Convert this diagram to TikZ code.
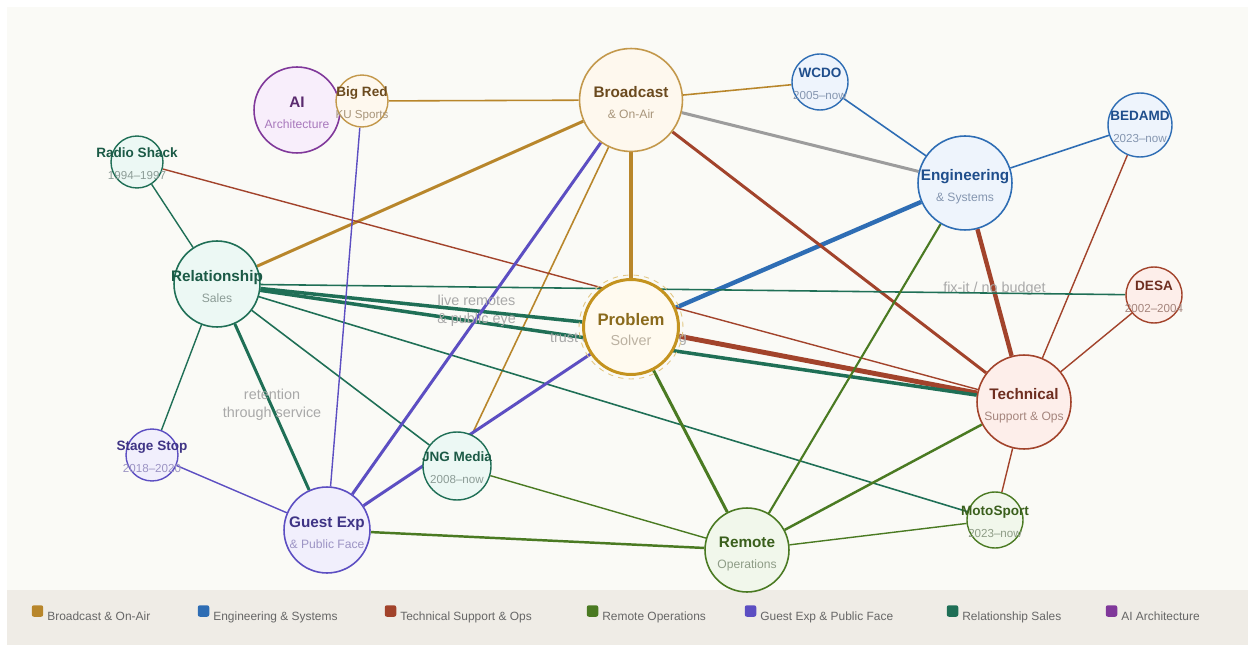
\documentclass[tikz,border=0pt]{standalone}
\usepackage{fontspec}
\setmainfont{Liberation Sans}

\pgfdeclarelayer{panel}
\pgfdeclarelayer{links}
\pgfsetlayers{panel,links,main}

\definecolor{panelbg}{HTML}{FAFAF6}
\definecolor{keybg}{HTML}{EFECE6}
\definecolor{keytext}{HTML}{666666}
\definecolor{lblgray}{HTML}{A9A9A9}
\definecolor{greyL}{HTML}{9C9C9C}
\definecolor{bcL}{HTML}{B8862B}\definecolor{bcF}{HTML}{FEF8EE}
\definecolor{bcT}{HTML}{6B4A1E}\definecolor{bcS}{HTML}{A8957A}
\definecolor{psL}{HTML}{C4931F}\definecolor{psF}{HTML}{FFFAEF}
\definecolor{psT}{HTML}{8A6A1C}\definecolor{psS}{HTML}{BCB2A2}
\definecolor{psHalo}{HTML}{E2C784}
\definecolor{enL}{HTML}{2E6DB4}\definecolor{enF}{HTML}{EEF4FC}
\definecolor{enT}{HTML}{1F4E8C}\definecolor{enS}{HTML}{8596B0}
\definecolor{teL}{HTML}{A2432B}\definecolor{teF}{HTML}{FDEEEA}
\definecolor{teT}{HTML}{6E2E20}\definecolor{teS}{HTML}{A5857D}
\definecolor{reL}{HTML}{4A7A22}\definecolor{reF}{HTML}{F1F7EB}
\definecolor{reT}{HTML}{3A5F1C}\definecolor{reS}{HTML}{8E9C86}
\definecolor{guL}{HTML}{5C4EC2}\definecolor{guF}{HTML}{F1EFFC}
\definecolor{guT}{HTML}{3F3485}\definecolor{guS}{HTML}{9C94C4}
\definecolor{rlL}{HTML}{1F6F56}\definecolor{rlF}{HTML}{ECF8F4}
\definecolor{rlT}{HTML}{1B5A46}\definecolor{rlS}{HTML}{8C9C96}
\definecolor{aiL}{HTML}{80389A}\definecolor{aiF}{HTML}{F8EEFB}
\definecolor{aiT}{HTML}{5A2A6E}\definecolor{aiS}{HTML}{A878BC}

% two-line text that leaves the circle at its own size
\newcommand\hubtxt[3]{%
  \makebox[0pt]{\raisebox{1.4pt}[0pt][0pt]{\fontsize{8.7}{10}\selectfont\bfseries\color{#1T}#2}}%
  \makebox[0pt]{\raisebox{-10.3pt}[0pt][0pt]{\fontsize{6.9}{8}\selectfont\color{#1S}#3}}}
\newcommand\sattxt[3]{%
  \makebox[0pt]{\raisebox{2.3pt}[0pt][0pt]{\fontsize{7.7}{9}\selectfont\bfseries\color{#1T}#2}}%
  \makebox[0pt]{\raisebox{-9.8pt}[0pt][0pt]{\fontsize{6.6}{8}\selectfont\color{#1S}#3}}}
\newcommand\pstxt[2]{%
  \makebox[0pt]{\raisebox{1.1pt}[0pt][0pt]{\fontsize{9.5}{11}\selectfont\bfseries\color{psT}#1}}%
  \makebox[0pt]{\raisebox{-10.5pt}[0pt][0pt]{\fontsize{8.2}{10}\selectfont\color{psS}#2}}}

\tikzset{
  hub/.style={circle, draw, line width=0.9pt, inner sep=0pt, minimum size=#1*0.04cm},
  sat/.style={circle, draw, line width=0.8pt, inner sep=0pt, minimum size=#1*0.04cm},
  bcnode/.style={draw=bcL!85!white, fill=bcF},
  psnode/.style={draw=psL, fill=psF, line width=1.7pt},
  ennode/.style={draw=enL, fill=enF},
  tenode/.style={draw=teL, fill=teF},
  renode/.style={draw=reL, fill=reF},
  gunode/.style={draw=guL, fill=guF},
  rlnode/.style={draw=rlL, fill=rlF},
  ainode/.style={draw=aiL, fill=aiF},
  lw/.style={line width=#1pt},
  elbl/.style={font=\fontsize{8.2}{10.2}\selectfont, text=lblgray, align=center, inner sep=0pt},
  keybox/.style={rectangle, rounded corners=1.2pt, inner sep=0pt, minimum size=0.23cm},
  keytxt/.style={anchor=base west, inner sep=0pt, font=\fontsize{6.8}{8}\selectfont, text=keytext},
}

\begin{document}
\begin{tikzpicture}[x=0.02cm, y=-0.02cm]
\begin{pgfonlayer}{panel}
\fill[white] (0,0) rectangle (1248,645);
\fill[panelbg] (7,7) rectangle (1248,590);
\fill[keybg] (7,590) rectangle (1248,645);
\end{pgfonlayer}

% main areas
\node (bc) at (631,100) [hub=51.5, bcnode] {\hubtxt{bc}{Broadcast}{\& On-Air}};
\node (en) at (965,183) [hub=47, ennode] {\hubtxt{en}{Engineering}{\& Systems}};
\node (te) at (1024,402) [hub=47, tenode] {\hubtxt{te}{Technical}{Support \& Ops}};
\node (rm) at (747,550) [hub=42, renode] {\hubtxt{re}{Remote}{Operations}};
\node (gu) at (327,530) [hub=43, gunode] {\hubtxt{gu}{Guest Exp}{\& Public Face}};
\node (rl) at (217,284) [hub=43, rlnode] {\hubtxt{rl}{Relationship}{Sales}};
\node (ai) at (297,110) [hub=43, ainode] {\hubtxt{ai}{AI}{Architecture}};

% centre
\node (psring) at (631,327) [hub=52, draw=psHalo, dashed, line width=0.5pt] {};
\node (ps) at (631,327) [hub=47.5, psnode] {\pstxt{Problem}{Solver}};

% employers
\node (br) at (362,101) [sat=26, bcnode] {\sattxt{bc}{Big Red}{KU Sports}};
\node (wc) at (820,82) [sat=28, ennode] {\sattxt{en}{WCDO}{2005–now}};
\node (bd) at (1140,125) [sat=32, ennode] {\sattxt{en}{BEDAMD}{2023–now}};
\node (rs) at (137,162) [sat=26, rlnode] {\sattxt{rl}{Radio Shack}{1994–1997}};
\node (ds) at (1154,295) [sat=28, tenode] {\sattxt{te}{DESA}{2002–2004}};
\node (ss) at (152,455) [sat=26, gunode] {\sattxt{gu}{Stage Stop}{2018–2020}};
\node (jng) at (457,466) [sat=34, rlnode] {\sattxt{rl}{JNG Media}{2008–now}};
\node (ms) at (995,520) [sat=28, renode] {\sattxt{re}{MotoSport}{2023–now}};

\begin{pgfonlayer}{links}
\path[bcL]
    (br) edge[lw=0.9] (bc)
    (bc) edge[lw=0.9] (wc)
    (bc) edge[lw=2.3] (ps)
    (bc) edge[lw=1.7] (rl)
    (bc) edge[lw=0.9] (jng);
\path[greyL]
    (bc) edge[lw=1.7] (en);
\path[enL]
    (wc) edge[lw=0.9] (en)
    (bd) edge[lw=0.9] (en)
    (en) edge[lw=2.5] (ps);
\path[teL]
    (bc) edge[lw=1.7] (te)
    (en) edge[lw=2.5] node[elbl, yshift=2pt] {fix-it / no budget} (te)
    (bd) edge[lw=0.8] (te)
    (ds) edge[lw=0.8] (te)
    (rs) edge[lw=0.8] (te)
    (ps) edge[lw=2.8] (te)
    (ms) edge[lw=0.8] (te);
\path[rlL]
    (rl) edge[lw=0.9] (ds)
    (rs) edge[lw=0.8] (rl)
    (rl) edge[lw=2] (ps)
    (rl) edge[lw=2] node[elbl, yshift=2.5pt] {trust \& understanding} (te)
    (rl) edge[lw=0.9] (ms)
    (rl) edge[lw=0.9] (jng)
    (rl) edge[lw=1.7] node[elbl, yshift=1.5pt] {retention\\through service} (gu)
    (rl) edge[lw=0.8] (ss);
\path[guL]
    (gu) edge[lw=1.7] node[elbl, yshift=4.5pt] {live remotes\\\& public eye} (bc)
    (gu) edge[lw=1.7] (ps)
    (br) edge[lw=0.8] (gu)
    (ss) edge[lw=0.8] (gu);
\path[reL]
    (en) edge[lw=1.2] (rm)
    (ps) edge[lw=1.7] (rm)
    (gu) edge[lw=1.4] (rm)
    (jng) edge[lw=0.8] (rm)
    (rm) edge[lw=1.4] (te)
    (rm) edge[lw=0.8] (ms);
\end{pgfonlayer}

% legend
\foreach \kx/\kc/\kt in {32/bcL/Broadcast \& On-Air, 198/enL/Engineering \& Systems,
    385/teL/Technical Support \& Ops, 587/reL/Remote Operations,
    745/guL/Guest Exp \& Public Face, 947/rlL/Relationship Sales, 1106/aiL/AI Architecture} {%
    \node (key\kc) at (\kx+5.5,611) [keybox, fill=\kc] {};
    \node (keytxt\kc) at (\kx+15,620) [keytxt] {\kt};
}
\end{tikzpicture}
\end{document}
